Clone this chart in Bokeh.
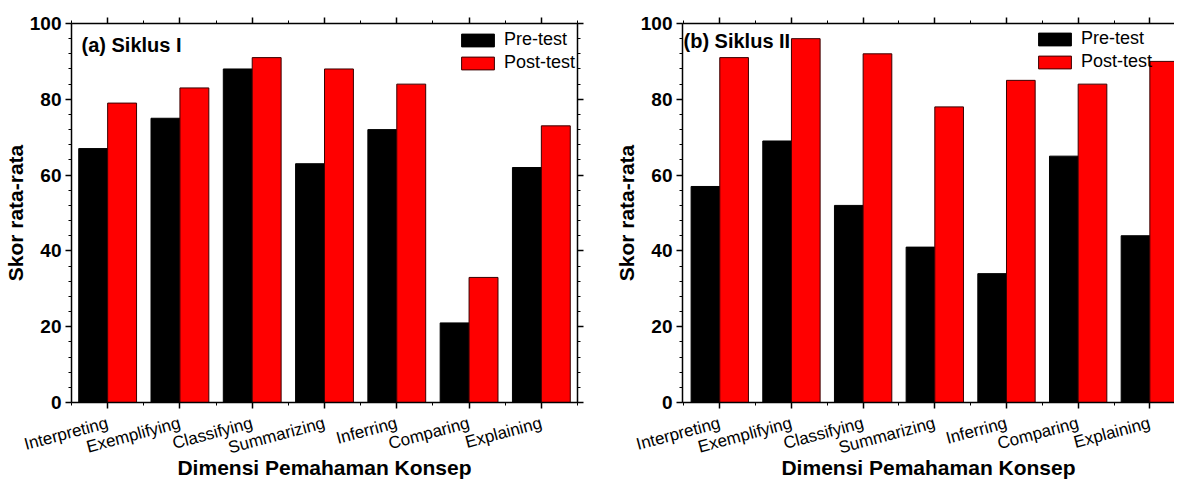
from bokeh.plotting import figure
from bokeh.models import (FixedTicker, LinearAxis, Label, Legend, LegendItem,
                          Range1d, ColumnDataSource)
from bokeh.layouts import row
from bokeh.transform import dodge
from bokeh.embed import file_html
from bokeh.resources import INLINE

# ---------------- data ----------------
categories = ["Interpreting", "Exemplifying", "Classifying", "Summarizing",
              "Inferring", "Comparing", "Explaining"]
pre_siklus1 = [67, 75, 88, 63, 72, 21, 62]
post_siklus1 = [79, 83, 91, 88, 84, 33, 73]
pre_siklus2 = [57, 69, 52, 41, 34, 65, 44]
post_siklus2 = [91, 96, 92, 78, 85, 84, 90]
y_ticks = [0, 20, 40, 60, 80, 100]
series_names = ["Pre-test", "Post-test"]
panel_titles = ["(a) Siklus I", "(b) Siklus II"]
x_title = "Dimensi Pemahaman Konsep"
y_title = "Skor rata-rata"

FONT = "Liberation Sans"
positions = list(range(1, len(categories) + 1))


def style_axis(ax):
    ax.axis_line_width = 1.5
    ax.axis_line_color = "black"
    ax.major_tick_line_width = 1.5
    ax.major_tick_line_color = "black"
    ax.major_tick_out = 6
    ax.major_tick_in = 0
    ax.minor_tick_line_width = 1
    ax.minor_tick_line_color = "black"
    ax.minor_tick_out = 3
    ax.minor_tick_in = 0


def hide_labels(ax):
    ax.major_label_text_font_size = "0px"
    ax.major_label_text_color = None
    ax.major_label_standoff = 0


def make_panel(pre, post, title, width, x_start, x_end, mb_top, mb_bottom,
               mb_right, title_x, title_y, leg_loc, right_axis):
    src = ColumnDataSource(dict(x=positions, pre=pre, post=post))
    p = figure(width=width, height=481, output_backend="svg",
               toolbar_location=None,
               x_range=Range1d(x_start, x_end), y_range=Range1d(0, 100),
               min_border_left=64, min_border_right=mb_right,
               min_border_top=mb_top, min_border_bottom=mb_bottom)
    p.outline_line_color = None
    p.grid.visible = False
    p.background_fill_color = "white"
    p.border_fill_color = "white"

    r_pre = p.vbar(x=dodge("x", -0.2), top="pre", width=0.4, bottom=0,
                   source=src, fill_color="black", line_color="black",
                   line_width=1)
    r_post = p.vbar(x=dodge("x", 0.2), top="post", width=0.4, bottom=0,
                    source=src, fill_color="#ff0000", line_color="#3a0000",
                    line_width=1)

    xticker = FixedTicker(ticks=positions,
                          minor_ticks=[i + 0.5 for i in range(0, 8)])
    yticker = FixedTicker(ticks=y_ticks, minor_ticks=list(range(0, 101, 4)))

    xa = p.xaxis[0]
    xa.ticker = xticker
    xa.major_label_overrides = {pos: c for pos, c in zip(positions, categories)}
    xa.major_label_orientation = 0.2618
    xa.major_label_text_font = FONT
    xa.major_label_text_font_size = "17px"
    xa.major_label_text_color = "black"
    xa.major_label_standoff = 14
    xa.axis_label = x_title
    xa.axis_label_text_font = FONT
    xa.axis_label_text_font_size = "21px"
    xa.axis_label_text_font_style = "bold"
    xa.axis_label_text_color = "black"
    xa.axis_label_standoff = -14
    style_axis(xa)

    ya = p.yaxis[0]
    ya.ticker = yticker
    ya.major_label_text_font = FONT
    ya.major_label_text_font_size = "19px"
    ya.major_label_text_font_style = "bold"
    ya.major_label_text_color = "black"
    ya.major_label_standoff = 4
    ya.axis_label = y_title
    ya.axis_label_text_font = FONT
    ya.axis_label_text_font_size = "21px"
    ya.axis_label_text_font_style = "bold"
    ya.axis_label_text_color = "black"
    ya.axis_label_standoff = 0
    style_axis(ya)

    top = LinearAxis(ticker=xticker)
    hide_labels(top)
    style_axis(top)
    p.add_layout(top, "above")
    if right_axis:
        ra = LinearAxis(ticker=yticker)
        hide_labels(ra)
        style_axis(ra)
        p.add_layout(ra, "right")

    legend = Legend(items=[LegendItem(label=series_names[0], renderers=[r_pre]),
                           LegendItem(label=series_names[1], renderers=[r_post])],
                    location=leg_loc, margin=0, padding=0,
                    border_line_color=None, background_fill_alpha=0,
                    glyph_width=41, glyph_height=16, label_standoff=6,
                    spacing=2, label_height=16,
                    label_text_font=FONT, label_text_font_size="18px",
                    label_text_color="black")
    p.add_layout(legend)

    p.add_layout(Label(x=title_x, y=title_y, x_units="screen", y_units="screen",
                       text=title, text_font=FONT, text_font_size="20px",
                       text_font_style="bold", text_color="black",
                       text_baseline="alphabetic"))
    return p


p1 = make_panel(pre_siklus1, post_siklus1, panel_titles[0], width=611,
                x_start=0.5, x_end=7.5, mb_top=22, mb_bottom=79, mb_right=34,
                title_x=10, title_y=358, leg_loc=(386, 329), right_axis=True)
p2 = make_panel(pre_siklus2, post_siklus2, panel_titles[1], width=563,
                x_start=0.48, x_end=7.344, mb_top=23, mb_bottom=79, mb_right=0,
                title_x=1, title_y=362, leg_loc=(352, 330), right_axis=False)

layout = row(p1, p2)
open("out.html", "w").write(file_html(layout, INLINE))
